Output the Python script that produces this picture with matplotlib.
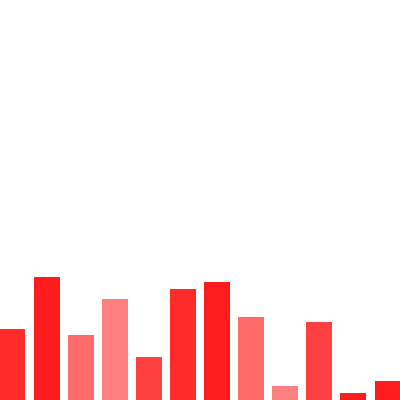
import matplotlib
matplotlib.use("Agg")
import matplotlib.pyplot as plt

categories = list(range(12))
values = [71, 123, 65, 101, 43, 111, 118, 83, 14, 78, 7, 19]
colors = ["#ff2a2a", "#ff1c1c", "#ff6b6b", "#ff8080", "#ff4040", "#ff2a2a",
          "#ff1c1c", "#ff6b6b", "#ff8080", "#ff4040", "#ff1c1c", "#ff1c1c"]

fig = plt.figure(figsize=(4, 4), dpi=100)
ax = fig.add_axes([0, 0, 1, 1])
ax.bar(categories, values, width=0.76, color=colors, edgecolor="none")
ax.set_xlim(-0.367, 11.367)
ax.set_ylim(0, 400)
ax.axis("off")
fig.savefig("out.png", dpi=100)
